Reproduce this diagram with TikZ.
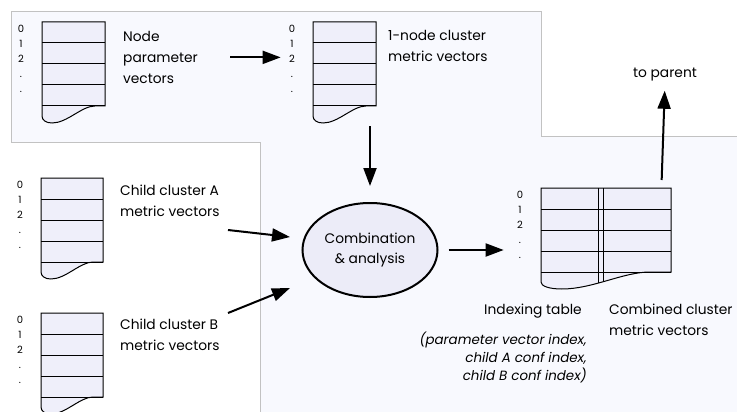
\documentclass[tikz,border=0pt]{standalone}
\usepackage{fontspec}
\setmainfont{Poppins}
\usetikzlibrary{arrows.meta,positioning,shapes.geometric}
\definecolor{panelfill}{HTML}{F8F9FE}
\definecolor{panelline}{HTML}{C2C2C2}
\definecolor{vecfill}{HTML}{EFEFFA}
\definecolor{opfill}{HTML}{ECECF8}

% vector stack: name, x, y (top left), width
\newcommand{\vecstack}[4]{%
  \path[vecbody] (#2,#3) -- ++(#4,0) -- ++(0,84) -- ++(-0.16*#4,0)
    .. controls ++(-0.21*#4,0) and ++(0.24*#4,0) .. ++(-0.68*#4,17)
    .. controls ++(-0.1*#4,0) and ++(0,4) .. ++(-0.16*#4,-7) -- cycle;
  \foreach \r in {1,2,3,4} \draw[rowline] (#2,#3+21*\r) -- ++(#4,0);
  \node[vecspan, minimum width=#4pt, anchor=north west] (#1) at (#2,#3) {};
  \node[idx] (#1-idx) at (#2-21,#3+3) {0\\1\\2\\.\\.};
}

\begin{document}
\begin{tikzpicture}[
    x=1pt, y=-1pt,
    every node/.style={inner sep=0pt, font=\fontsize{13.8}{21}\selectfont},
    panel/.style={draw=panelline, line width=1pt, fill=panelfill},
    vecbody/.style={draw=black, line width=1pt, fill=vecfill},
    rowline/.style={draw=black, line width=1pt},
    vecspan/.style={minimum height=101pt},
    idx/.style={anchor=north, align=center, font=\fontsize{10}{15}\selectfont},
    caption/.style={anchor=north west, align=left},
    flow/.style={-{Triangle[length=18pt,width=13pt]}, line width=2pt},
    combine/.style={ellipse, draw, line width=2pt, fill=opfill, minimum width=135pt, minimum height=94pt, align=center, font=\fontsize{13.8}{20}\selectfont}
  ]
    \useasboundingbox (0,0) rectangle (737,412);

    % shaded panel behind the node
    \path[panel] (11,12) -- (541,12) -- (541,136) -- (740,136) -- (740,415)
      -- (260,415) -- (260,142) -- (11,142) -- cycle;

    \vecstack{nodepar}{42}{22}{63}
    \vecstack{onenode}{313}{22}{63}
    \vecstack{childa}{41}{178}{62}
    \vecstack{childb}{41}{313}{62}

    % indexing table + combined vectors
    \vecstack{table}{541}{188}{130}
    \draw[rowline] (598,188) -- (598,283);
    \draw[rowline] (603,188) -- (603,282);

    \node[caption] (nodepar-cap) at (123,31) {Node\\parameter\\vectors};
    \node[caption] (onenode-cap) at (388,30) {1-node cluster\\metric vectors};
    \node[caption] (childa-cap) at (120,185) {Child cluster A\\metric vectors};
    \node[caption] (childb-cap) at (120,319) {Child cluster B\\metric vectors};

    \node[combine] (combo) at (370,250) {Combination\\\& analysis};

    \node[anchor=base east] (table-cap) at (582,314) {Indexing table};
    \node[anchor=north east, align=right, font=\fontsize{13.4}{18}\selectfont\itshape]
      (table-note) at (587,332) {(parameter vector index,\\child A conf index,\\child B conf index)};
    \node[caption] (table-vec) at (609,304) {Combined cluster\\metric vectors};
    \node (parent) at (665,75) {to parent};

    \draw[flow, shorten >=8pt] ([xshift=32pt]nodepar-cap.east) -- (onenode-idx.west |- nodepar-cap.east);
    \draw[flow, shorten <=3pt, shorten >=16pt] (onenode.south -| combo.north) -- (combo.north);
    \draw[flow] (228,230) -- (290,237);
    \draw[flow] (228,313) -- (290,288);
    \draw[flow, shorten <=10pt, shorten >=13pt] (combo.east) -- (combo.east -| table-idx.west);
    \draw[flow, shorten <=8pt, shorten >=9pt] ([xshift=-10pt]table.north east) -- (parent.south);
  \end{tikzpicture}
\end{document}
